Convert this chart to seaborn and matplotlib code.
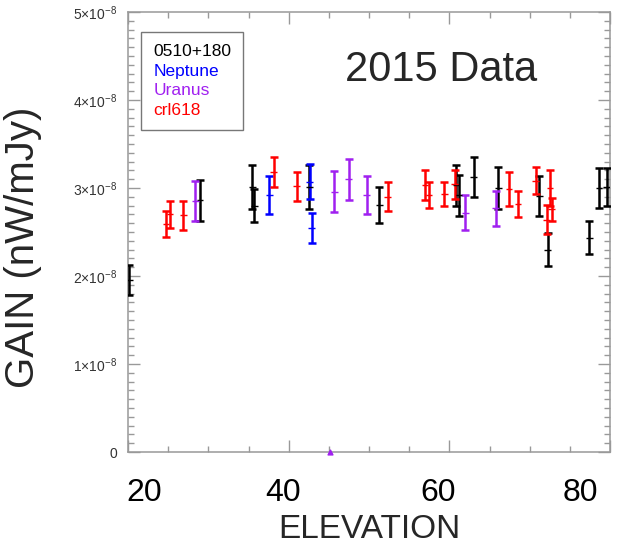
import numpy as np
import pandas as pd
import matplotlib
matplotlib.use("Agg")
import matplotlib.pyplot as plt
import matplotlib.transforms as mtransforms
from matplotlib.lines import Line2D
from matplotlib.ticker import MultipleLocator, FuncFormatter
import seaborn as sns

# gain values in units of 1e-8 nW/mJy
src_0510_elev = [20.16, 28.96, 35.45, 35.7, 42.57, 51.28, 60.83, 61.2, 63.03, 66.1, 71.2, 72.25, 77.42, 78.63, 79.59]
src_0510_gain = [1.955, 2.86, 3.015, 2.80, 3.015, 2.81, 3.03, 2.915, 3.125, 3.0, 2.91, 2.30, 2.435, 3.0, 3.01]
src_0510_err = [0.17, 0.235, 0.25, 0.19, 0.25, 0.205, 0.23, 0.233, 0.23, 0.237, 0.223, 0.186, 0.19, 0.227, 0.22]

neptune_elev = [37.6, 42.65, 42.9]
neptune_gain = [2.92, 3.07, 2.55]
neptune_err = [0.22, 0.2, 0.17]

uranus_elev = [28.4, 45.7, 47.5, 49.7, 62.0, 65.8]
uranus_gain = [2.85, 2.96, 3.10, 2.92, 2.72, 2.77]
uranus_err = [0.23, 0.235, 0.233, 0.22, 0.2, 0.2]
uranus_zero_elev = [45.2]

crl618_elev = [24.73, 25.23, 26.88, 38.14, 41.0, 52.33, 56.97, 57.47, 59.37, 60.7, 67.43, 68.55, 70.75, 72.12, 72.53, 72.74]
crl618_gain = [2.59, 2.70, 2.69, 3.18, 3.02, 2.90, 3.03, 2.92, 2.93, 3.04, 2.99, 2.82, 3.085, 2.64, 3.0, 2.76]
crl618_err = [0.15, 0.153, 0.166, 0.167, 0.165, 0.163, 0.17, 0.148, 0.14, 0.165, 0.19, 0.148, 0.157, 0.163, 0.21, 0.13]

sources = ["0510+180", "Neptune", "Uranus", "crl618"]
colors = {"0510+180": "black", "Neptune": "#0000ff", "Uranus": "#a020f0", "crl618": "#ff0000"}
x_ticks = [20, 40, 60, 80]

frames = []
for name, el, g, e in [("0510+180", src_0510_elev, src_0510_gain, src_0510_err),
                       ("Neptune", neptune_elev, neptune_gain, neptune_err),
                       ("Uranus", uranus_elev, uranus_gain, uranus_err),
                       ("crl618", crl618_elev, crl618_gain, crl618_err)]:
    frames.append(pd.DataFrame({"source": name, "elevation": el,
                                "gain": np.array(g) * 1e-8, "err": np.array(e) * 1e-8}))
df = pd.concat(frames, ignore_index=True)

sns.set_theme(style="ticks")
plt.rcParams["font.family"] = ["Liberation Sans", "DejaVu Sans"]
plt.rcParams["mathtext.fontset"] = "custom"
plt.rcParams["mathtext.rm"] = "Liberation Sans"
plt.rcParams["mathtext.it"] = "Liberation Sans"

fig = plt.figure(figsize=(6.19, 5.48), dpi=100)
ax = fig.add_axes([128 / 619, 96 / 548, 482 / 619, 440 / 548])

for name in sources:
    d = df[df["source"] == name]
    ax.errorbar(d["elevation"], d["gain"], yerr=d["err"], fmt="none",
                ecolor=colors[name], elinewidth=1.8, capsize=2.6, capthick=1.8, zorder=3)

sns.scatterplot(data=df, x="elevation", y="gain", hue="source", palette=colors,
                marker="_", s=25, linewidth=1.0, legend=False, ax=ax, zorder=4)

ax.scatter(uranus_zero_elev, [0] * len(uranus_zero_elev), marker="^", s=12,
           color=colors["Uranus"], clip_on=False, zorder=5)

ax.set_xlim(20, 80)
ax.set_ylim(0, 5e-8)
ax.set_xticks(x_ticks)
ax.xaxis.set_minor_locator(MultipleLocator(5))
ax.yaxis.set_major_locator(MultipleLocator(1e-8))
ax.yaxis.set_minor_locator(MultipleLocator(1e-9))


def yfmt(v, pos):
    n = int(round(v / 1e-8))
    if n == 0:
        return "0"
    return r"$%d{\times}10^{-8}$" % n


ax.yaxis.set_major_formatter(FuncFormatter(yfmt))

for s in ax.spines.values():
    s.set_color("#999999")
    s.set_linewidth(1.1)
ax.tick_params(which="both", direction="in", top=True, right=True, color="#999999", width=1.0)
ax.tick_params(which="major", length=8.5)
ax.tick_params(which="minor", length=4.5)
ax.tick_params(axis="y", labelsize=10, labelcolor="#333333", pad=8)
ax.tick_params(axis="x", labelsize=23, labelcolor="black", pad=19)

# the x tick labels in the original sit a bit off their ticks
shifts = [16, -6, -11, -30]
for tick, dx in zip(ax.xaxis.get_major_ticks(), shifts):
    lab = tick.label1
    lab.set_transform(lab.get_transform() +
                      mtransforms.ScaledTranslation(dx / 100, 0, fig.dpi_scale_trans))

ax.set_xlabel("ELEVATION", fontsize=24, labelpad=4)
ax.set_ylabel("GAIN (nW/mJy)", fontsize=29)
ax.yaxis.set_label_coords(-0.178, 0.466)

ax.text(0.649, 0.868, "2015 Data", transform=ax.transAxes, fontsize=30,
        ha="center", va="center")

handles = [Line2D([], [], linestyle="none") for _ in sources]
leg = ax.legend(handles, sources, loc="upper left", bbox_to_anchor=(0.027, 0.955),
                handlelength=0, handletextpad=0, fontsize=12.5, frameon=True,
                fancybox=False, borderpad=0.7, labelspacing=0.25,
                labelcolor=[colors[s] for s in sources], borderaxespad=0)
leg.get_frame().set_edgecolor("#555555")
leg.get_frame().set_linewidth(1.0)

fig.savefig("out.png", dpi=100)
